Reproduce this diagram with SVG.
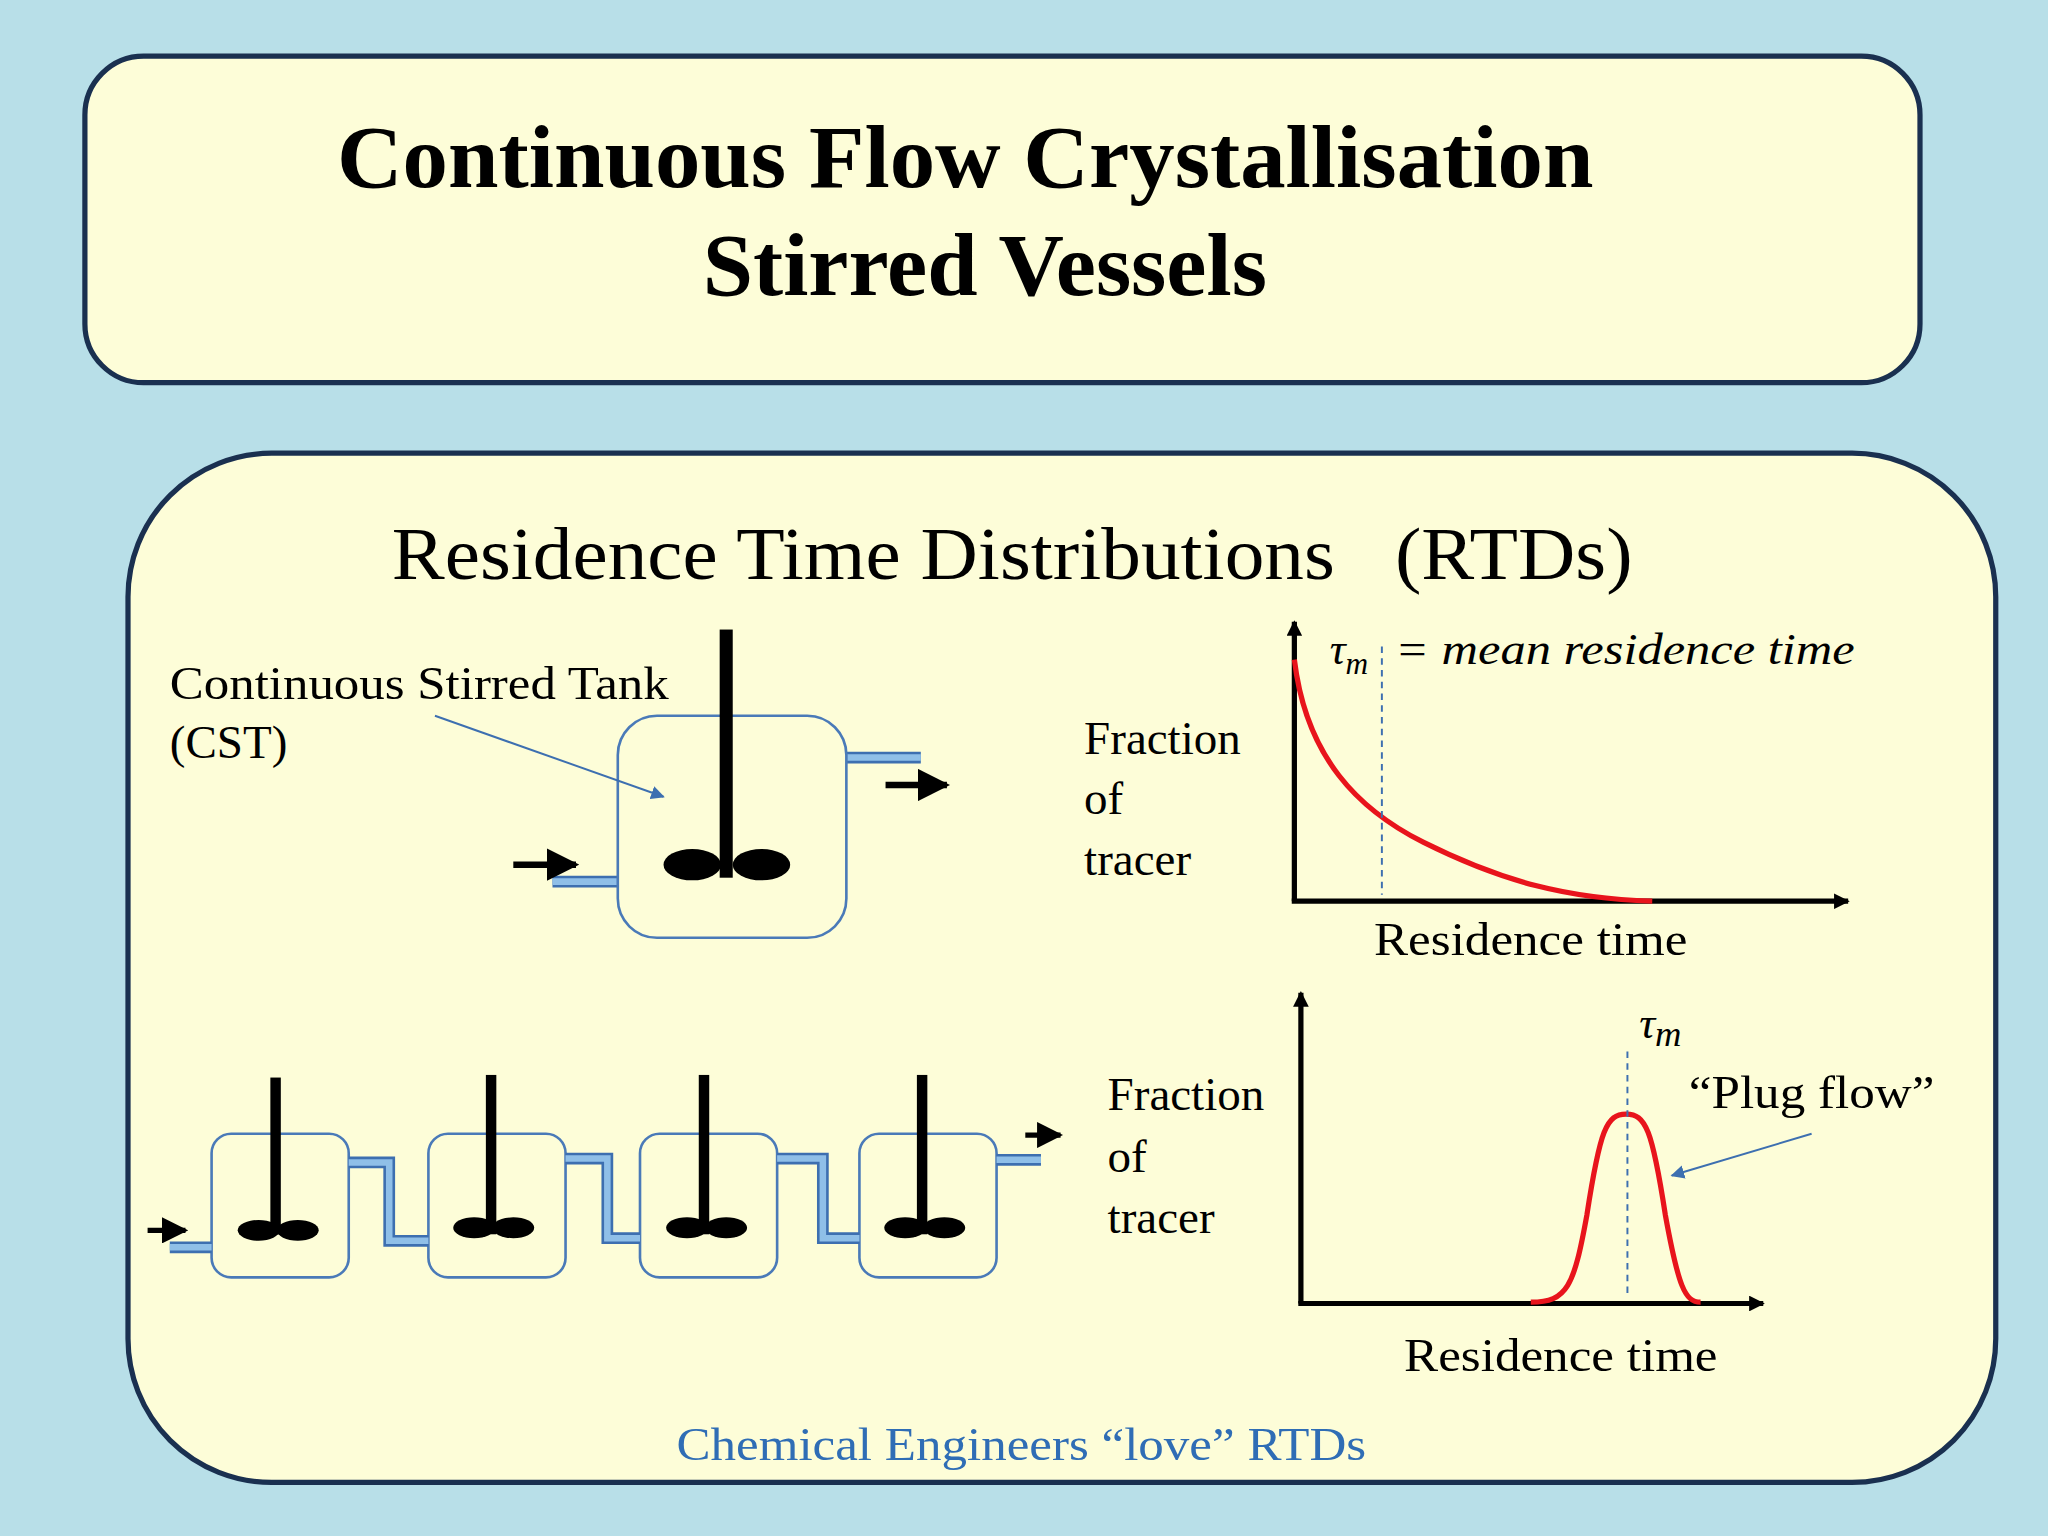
<svg xmlns="http://www.w3.org/2000/svg" width="2048" height="1536" viewBox="0 0 2048 1536">
<defs>
<style>
.t{font-family:"Liberation Serif",serif;fill:#000}
.box{fill:#fdfdd8;stroke:#1a3050;stroke-width:4}
.tank{fill:none;stroke:#4a7ab8;stroke-width:2}
.po{fill:none;stroke:#3d6fb0;stroke-width:9}
.pi{fill:none;stroke:#8fbfe8;stroke-width:5}
.ax{stroke:#000;stroke-width:4;fill:none}
.red{stroke:#e8141c;stroke-width:4;fill:none}
.dash{stroke:#3d6fb0;stroke-width:1.5;stroke-dasharray:5 4}
</style>
<marker id="ah" viewBox="0 0 10 10" refX="9" refY="5" markerWidth="5" markerHeight="5" orient="auto"><path d="M0,0L10,5L0,10z" fill="#000"/></marker>
<marker id="bh" viewBox="0 0 10 10" refX="9" refY="5" markerWidth="7" markerHeight="7" orient="auto"><path d="M0,0L10,5L0,10z" fill="#3d6fb0"/></marker>
<marker id="kh" viewBox="0 0 10 10" refX="9" refY="5" markerWidth="3" markerHeight="3" orient="auto"><path d="M0,0L10,5L0,10z" fill="#000"/></marker>
</defs>
<rect width="2048" height="1536" fill="#b8dfe8"/>
<g transform="scale(1.30612)">
<g id="title"><rect class="box" x="65" y="43" width="1405" height="250" rx="45"/>
<text class="t" x="258" y="143" font-size="68" font-weight="bold" textLength="962" lengthAdjust="spacingAndGlyphs">Continuous Flow Crystallisation</text>
<text class="t" x="538" y="226" font-size="68" font-weight="bold" textLength="432" lengthAdjust="spacingAndGlyphs">Stirred Vessels</text></g>
<g id="main"><rect class="box" x="98" y="347" width="1430" height="788" rx="110"/>
<text class="t" x="300" y="443" font-size="56" textLength="722" lengthAdjust="spacingAndGlyphs">Residence Time Distributions</text>
<text class="t" x="1068" y="443" font-size="56" textLength="182" lengthAdjust="spacingAndGlyphs">(RTDs)</text>
<text x="518" y="1118" font-size="36" font-family="Liberation Serif,serif" fill="#2f6db5" textLength="528" lengthAdjust="spacingAndGlyphs">Chemical Engineers “love” RTDs</text></g>
<g id="cst">
<text class="t" x="130" y="535" font-size="36" textLength="382" lengthAdjust="spacingAndGlyphs">Continuous Stirred Tank</text>
<text class="t" x="130" y="580" font-size="36">(CST)</text>
<polyline class="po" points="648,580 705,580"/><polyline class="pi" points="648,580 705,580"/>
<polyline class="po" points="423,675 473,675"/><polyline class="pi" points="423,675 473,675"/>
<rect class="tank" x="473" y="548" width="175" height="170" rx="30"/>
<rect x="551" y="482" width="10" height="190"/>
<ellipse cx="530" cy="662" rx="22" ry="12"/><ellipse cx="583" cy="662" rx="22" ry="12"/>
</g>
<g id="series">
<rect class="tank" x="162" y="868" width="105" height="110" rx="15"/>
<rect class="tank" x="328" y="868" width="105" height="110" rx="15"/>
<rect class="tank" x="490" y="868" width="105" height="110" rx="15"/>
<rect class="tank" x="658" y="868" width="105" height="110" rx="15"/>
<g id="pipes">
<polyline class="po" points="130,955 162,955"/><polyline class="pi" points="130,955 162,955"/>
<polyline class="po" points="267,890 298,890 298,950 328,950"/><polyline class="pi" points="267,890 298,890 298,950 328,950"/>
<polyline class="po" points="433,887 465,887 465,948 490,948"/><polyline class="pi" points="433,887 465,887 465,948 490,948"/>
<polyline class="po" points="595,887 630,887 630,948 658,948"/><polyline class="pi" points="595,887 630,887 630,948 658,948"/>
<polyline class="po" points="763,888 797,888"/><polyline class="pi" points="763,888 797,888"/>
</g>
<rect x="207" y="825" width="8" height="120"/><rect x="372" y="823" width="8" height="122"/><rect x="535" y="823" width="8" height="122"/><rect x="702" y="823" width="8" height="122"/>
<ellipse cx="198" cy="942" rx="16" ry="8"/><ellipse cx="228" cy="942" rx="16" ry="8"/>
<ellipse cx="363" cy="940" rx="16" ry="8"/><ellipse cx="393" cy="940" rx="16" ry="8"/>
<ellipse cx="526" cy="940" rx="16" ry="8"/><ellipse cx="556" cy="940" rx="16" ry="8"/>
<ellipse cx="693" cy="940" rx="16" ry="8"/><ellipse cx="723" cy="940" rx="16" ry="8"/>
</g>
<g id="connectors">
<line x1="333" y1="548" x2="508" y2="610" stroke="#3d6fb0" stroke-width="1.5" marker-end="url(#bh)"/>
<line x1="1387" y1="868" x2="1280" y2="900" stroke="#3d6fb0" stroke-width="1.5" marker-end="url(#bh)"/>
<line x1="678" y1="601" x2="725" y2="601" stroke="#000" stroke-width="5" marker-end="url(#ah)"/>
<line x1="393" y1="662" x2="441" y2="662" stroke="#000" stroke-width="5" marker-end="url(#ah)"/>
<line x1="113" y1="942" x2="142" y2="942" stroke="#000" stroke-width="4" marker-end="url(#ah)"/>
<line x1="785" y1="869" x2="812" y2="869" stroke="#000" stroke-width="4" marker-end="url(#ah)"/>
</g>
<g id="graph1">
<line class="ax" x1="991" y1="690" x2="991" y2="476" marker-end="url(#kh)"/>
<line class="ax" x1="989" y1="690" x2="1415" y2="690" stroke-width="3" marker-end="url(#kh)"/>
<path class="red" d="M991,505 C1000,580 1040,620 1090,645 C1150,675 1200,688 1265,690"/>
<line class="dash" x1="1058" y1="495" x2="1058" y2="685"/>
<text class="t" x="1018" y="508" font-size="34" font-style="italic">τ<tspan font-size="24" dy="8">m</tspan></text>
<text class="t" x="1068" y="508" font-size="34" font-style="italic" textLength="352" lengthAdjust="spacingAndGlyphs">= mean residence time</text>
<text class="t" x="830" y="577" font-size="36">Fraction</text><text class="t" x="830" y="623" font-size="36">of</text><text class="t" x="830" y="670" font-size="36">tracer</text>
<text class="t" x="1052" y="731" font-size="36" textLength="240" lengthAdjust="spacingAndGlyphs">Residence time</text>
</g>
<g id="graph2">
<line class="ax" x1="996" y1="998" x2="996" y2="760" marker-end="url(#kh)"/>
<line class="ax" x1="994" y1="998" x2="1350" y2="998" stroke-width="3" marker-end="url(#kh)"/>
<path class="red" d="M1172,997 C1200,997 1205,985 1215,930 C1225,865 1230,853 1245,853 C1260,853 1265,865 1275,930 C1285,985 1290,997 1302,997"/>
<line class="dash" x1="1246" y1="805" x2="1246" y2="990"/>
<text class="t" x="1255" y="795" font-size="34" font-style="italic">τ<tspan font-size="28" dy="6">m</tspan></text>
<text class="t" x="1293" y="848" font-size="36" textLength="188" lengthAdjust="spacingAndGlyphs">“Plug flow”</text>
<text class="t" x="848" y="850" font-size="36">Fraction</text><text class="t" x="848" y="897" font-size="36">of</text><text class="t" x="848" y="944" font-size="36">tracer</text>
<text class="t" x="1075" y="1050" font-size="36" textLength="240" lengthAdjust="spacingAndGlyphs">Residence time</text>
</g>
</g>
</svg>
